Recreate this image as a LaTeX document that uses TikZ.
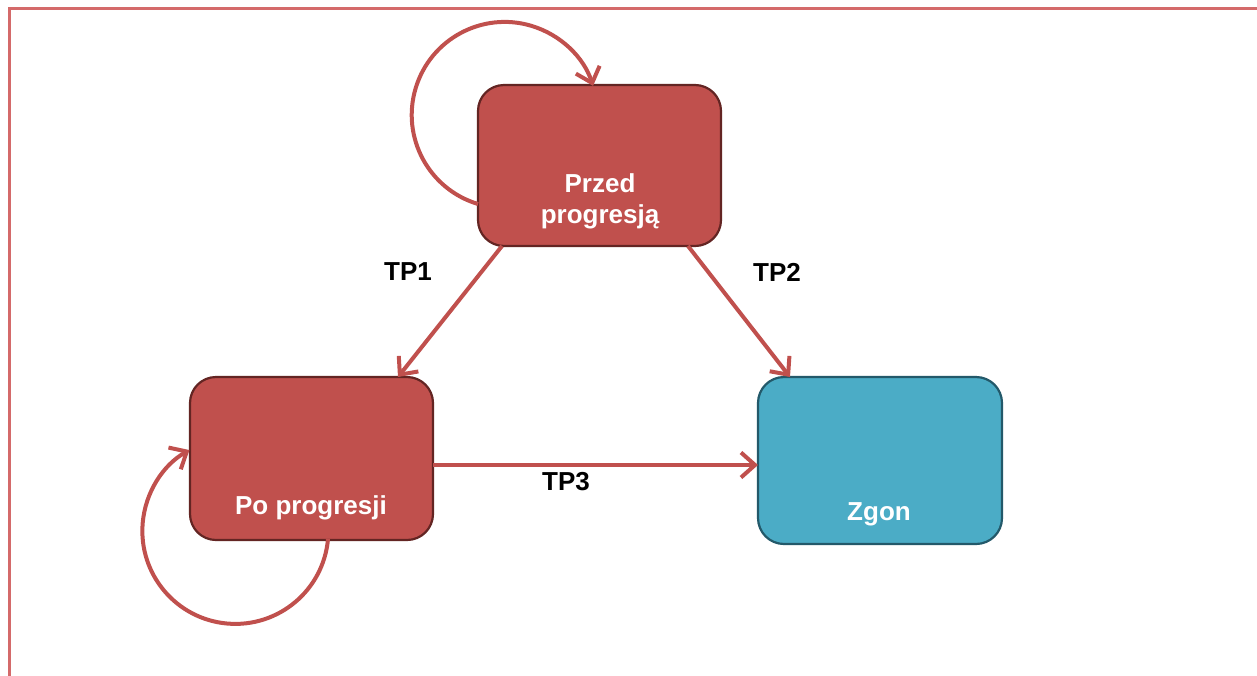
\documentclass[tikz,border=0pt]{standalone}
\usepackage{fontspec}
\setmainfont{Liberation Sans}
\usetikzlibrary{arrows.meta}
\definecolor{stateRed}{HTML}{C0504D}
\definecolor{stateRedLine}{HTML}{632523}
\definecolor{stateTeal}{HTML}{4BACC6}
\definecolor{stateTealLine}{HTML}{23596A}
\definecolor{frameRed}{HTML}{D46A6A}
\tikzset{
  statebox/.style={draw=#1Line, fill=#1, line width=2.2pt, rounded corners=26pt,
    minimum width=243pt, minimum height=161pt, inner sep=0pt},
  statetext/.style={text=white, font=\fontsize{26}{31}\selectfont\bfseries, align=center},
  trans/.style={draw=stateRed, line width=4pt,
    -{Straight Barb[length=14pt, width=25pt, line width=4pt]}},
  tplabel/.style={font=\fontsize{26}{29}\selectfont\bfseries, text=black}
}
\begin{document}
\begin{tikzpicture}[x=1pt, y=-1pt]
\useasboundingbox (0,0) rectangle (1257,675);
% outer frame
\draw[frameRed, line width=2.5pt] (9.5,700) -- (9.5,8.5) -- (1270,8.5);

% states
\node[statebox=stateRed] (pre) at (599.5,165.5) {};
\node[statebox=stateRed, minimum height=163pt] (post) at (311.5,458.5) {};
\node[statebox=stateTeal, minimum width=244pt, minimum height=167pt] (dead) at (880,460.5) {};

\node[statetext] (preT) at (600,201) {Przed\\progresją};
\node[statetext] (postT) at (311,508) {Po progresji};
\node[statetext] (deadT) at (879,514) {Zgon};

% end points on the box edges
\coordinate (preL) at (478,204);
\coordinate (preTop) at (593,85);
\coordinate (preSW) at (502,246);
\coordinate (preSE) at (688,246);
\coordinate (postB) at (328,539);
\coordinate (postL) at (190,450);
\coordinate (postN) at (398,377);
\coordinate (postE) at (433,465);
\coordinate (deadN) at (790,377);
\coordinate (deadW) at (758,465);

% self loops
\draw[trans] (preL) arc[start angle=106.7, end angle=341.8, radius=93];
\draw[trans] (postB) arc[start angle=5, end angle=240.4, radius=93];

% transitions
\draw[trans] (preSW) -- (postN);
\draw[trans] (preSE) -- (deadN);
\draw[trans] (postE) -- (deadW);

% transition labels
\node[tplabel] (tp1) at (408,272) {TP1};
\node[tplabel] (tp2) at (777,272) {TP2};
\node[tplabel] (tp3) at (566,482) {TP3};
\end{tikzpicture}
\end{document}
